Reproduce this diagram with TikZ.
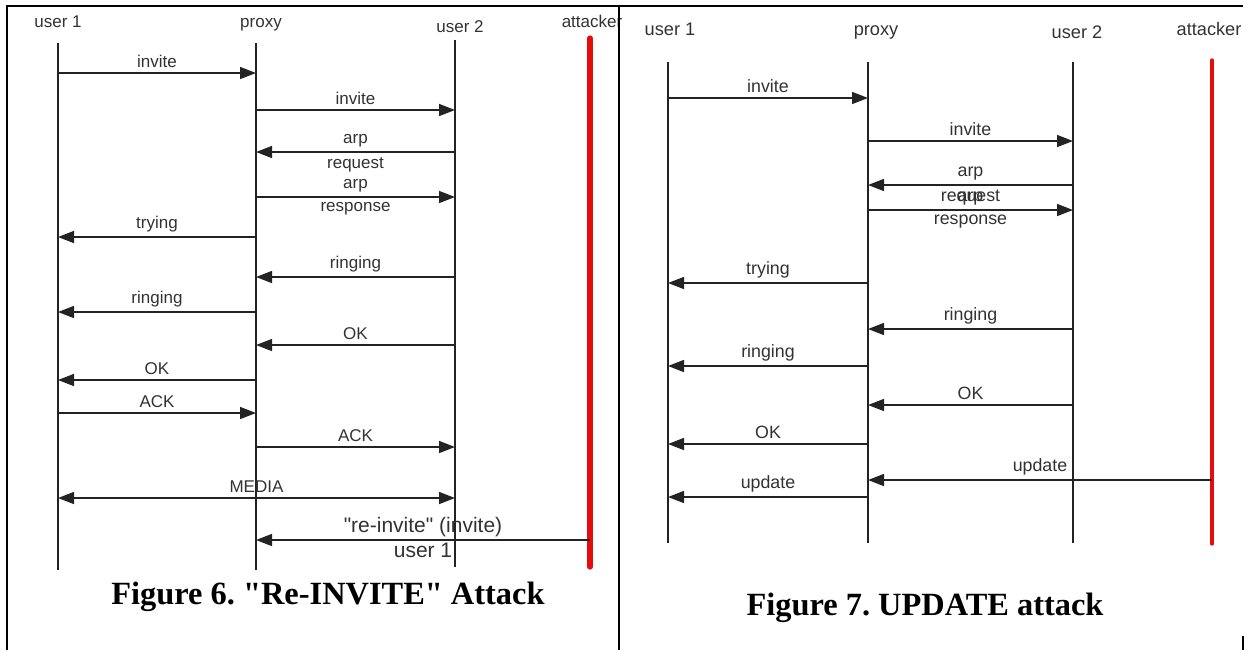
\documentclass[tikz,border=0pt]{standalone}
\usepackage{fontspec}
\setmainfont{Liberation Sans}
\newfontfamily\capfont{Liberation Serif}
\usetikzlibrary{arrows.meta}
\definecolor{attackred}{RGB}{230,12,12}
\definecolor{linegray}{RGB}{35,35,35}
\definecolor{textgray}{RGB}{50,50,50}

\tikzset{
	head/.style={font=\fontsize{8.5}{10}\selectfont, text=textgray, inner sep=0pt, anchor=base},
	rhead/.style={head, font=\fontsize{9.1}{11}\selectfont},
	life/.style={draw=linegray, line width=0.6pt},
	evil/.style={draw=attackred, line width=2.6pt, line cap=round},
	revil/.style={draw=attackred, line width=1.6pt, line cap=round},
	msg/.style={draw=linegray, line width=0.75pt, -{Triangle[length=8pt,width=6pt]}},
	both/.style={msg, {Triangle[length=8pt,width=6pt]}-{Triangle[length=8pt,width=6pt]}},
	lbl/.style={font=\fontsize{8.5}{10}\selectfont, text=textgray, inner sep=2.2pt},
	rlbl/.style={lbl, font=\fontsize{8.9}{10}\selectfont},
	biglbl/.style={lbl, font=\fontsize{10.5}{12}\selectfont},
	frame/.style={draw=black, line width=1pt},
	caption/.style={font=\capfont\bfseries\fontsize{16.2}{19}\selectfont, inner sep=0pt}
}

\begin{document}
\begin{tikzpicture}[x=0.5pt,y=-0.5pt]
	\useasboundingbox (0,0) rectangle (1252,650);

	\node[head] (au1) at (58,27) {user 1};
	\node[head] (apx) at (261,27) {proxy};
	\node[head] (au2) at (460,32) {user 2};
	\node[head] (aat) at (592,27) {attacker};

	\coordinate (au1t) at (58,43);   \coordinate (au1b) at (58,570);
	\coordinate (apxt) at (256,43);  \coordinate (apxb) at (256,570);
	\coordinate (au2t) at (455,40);  \coordinate (au2b) at (455,567);
	\coordinate (aatt) at (590,38);  \coordinate (aatb) at (590,567);

	\draw[life] (au1t) -- (au1b);
	\draw[life] (apxt) -- (apxb);
	\draw[life] (au2t) -- (au2b);
	\draw[evil] (aatt) -- (aatb);

	\draw[msg] (au1t |- 0,73) -- node[lbl, above] {invite} (apxt |- 0,73);
	\draw[msg] (apxt |- 0,110) -- node[lbl, above] {invite} (au2t |- 0,110);
	\draw[msg] (au2t |- 0,152) -- node[lbl, above] {arp} node[lbl, below] {request} (apxt |- 0,152);
	\draw[msg] (apxt |- 0,197) -- node[lbl, above] {arp} node[lbl, below] {response} (au2t |- 0,197);
	\draw[msg] (apxt |- 0,237) -- node[lbl, above] {trying} (au1t |- 0,237);
	\draw[msg] (au2t |- 0,277) -- node[lbl, above] {ringing} (apxt |- 0,277);
	\draw[msg] (apxt |- 0,312) -- node[lbl, above] {ringing} (au1t |- 0,312);
	\draw[msg] (au2t |- 0,345) -- node[lbl, above] {OK} (apxt |- 0,345);
	\draw[msg] (apxt |- 0,380) -- node[lbl, above] {OK} (au1t |- 0,380);
	\draw[msg] (au1t |- 0,413) -- node[lbl, above] {ACK} (apxt |- 0,413);
	\draw[msg] (apxt |- 0,447) -- node[lbl, above] {ACK} (au2t |- 0,447);
	\draw[both] (au1t |- 0,498) -- node[lbl, above] {MEDIA} (au2t |- 0,498);
	\draw[msg] (aatt |- 0,540) -- node[biglbl, above, inner sep=1pt] {\textquotedbl re-invite\textquotedbl{} (invite)} node[biglbl, below, inner sep=1pt] {user 1} (apxt |- 0,540);

	\node[caption] (acap) at (328,597) {Figure 6.\ \textquotedbl Re-INVITE\textquotedbl{} Attack};

	\node[rhead] (bu1) at (670,35) {user 1};
	\node[rhead] (bpx) at (876,35) {proxy};
	\node[rhead] (bu2) at (1077,38) {user 2};
	\node[rhead] (bat) at (1209,35) {attacker};

	\coordinate (bu1t) at (668,62);   \coordinate (bu1b) at (668,543);
	\coordinate (bpxt) at (868,62);   \coordinate (bpxb) at (868,543);
	\coordinate (bu2t) at (1073,62);  \coordinate (bu2b) at (1073,543);
	\coordinate (batt) at (1212,60);  \coordinate (batb) at (1212,544);

	\draw[life] (bu1t) -- (bu1b);
	\draw[life] (bpxt) -- (bpxb);
	\draw[life] (bu2t) -- (bu2b);
	\draw[revil] (batt) -- (batb);

	\draw[msg] (bu1t |- 0,98) -- node[rlbl, above] {invite} (bpxt |- 0,98);
	\draw[msg] (bpxt |- 0,141) -- node[rlbl, above] {invite} (bu2t |- 0,141);
	\draw[msg] (bu2t |- 0,185) -- node[rlbl, above] {arp} node[rlbl, below] {request} (bpxt |- 0,185);
	\draw[msg] (bpxt |- 0,210) -- node[rlbl, above] {arp} node[rlbl, below] {response} (bu2t |- 0,210);
	\draw[msg] (bpxt |- 0,283) -- node[rlbl, above] {trying} (bu1t |- 0,283);
	\draw[msg] (bu2t |- 0,329) -- node[rlbl, above] {ringing} (bpxt |- 0,329);
	\draw[msg] (bpxt |- 0,366) -- node[rlbl, above] {ringing} (bu1t |- 0,366);
	\draw[msg] (bu2t |- 0,405) -- node[rlbl, above] {OK} (bpxt |- 0,405);
	\draw[msg] (bpxt |- 0,444) -- node[rlbl, above] {OK} (bu1t |- 0,444);
	\draw[msg] (batt |- 0,480) -- node[rlbl, above] {update} (bpxt |- 0,480);
	\draw[msg] (bpxt |- 0,497) -- node[rlbl, above] {update} (bu1t |- 0,497);

	\node[caption] (bcap) at (925,608) {Figure 7.\ UPDATE attack};

	\draw[frame] (7,650) -- (7,6) -- (1243,6);
	\draw[frame] (619,6) -- (619,650);
	\draw[frame] (1243,636) -- (1243,650);
\end{tikzpicture}
\end{document}
